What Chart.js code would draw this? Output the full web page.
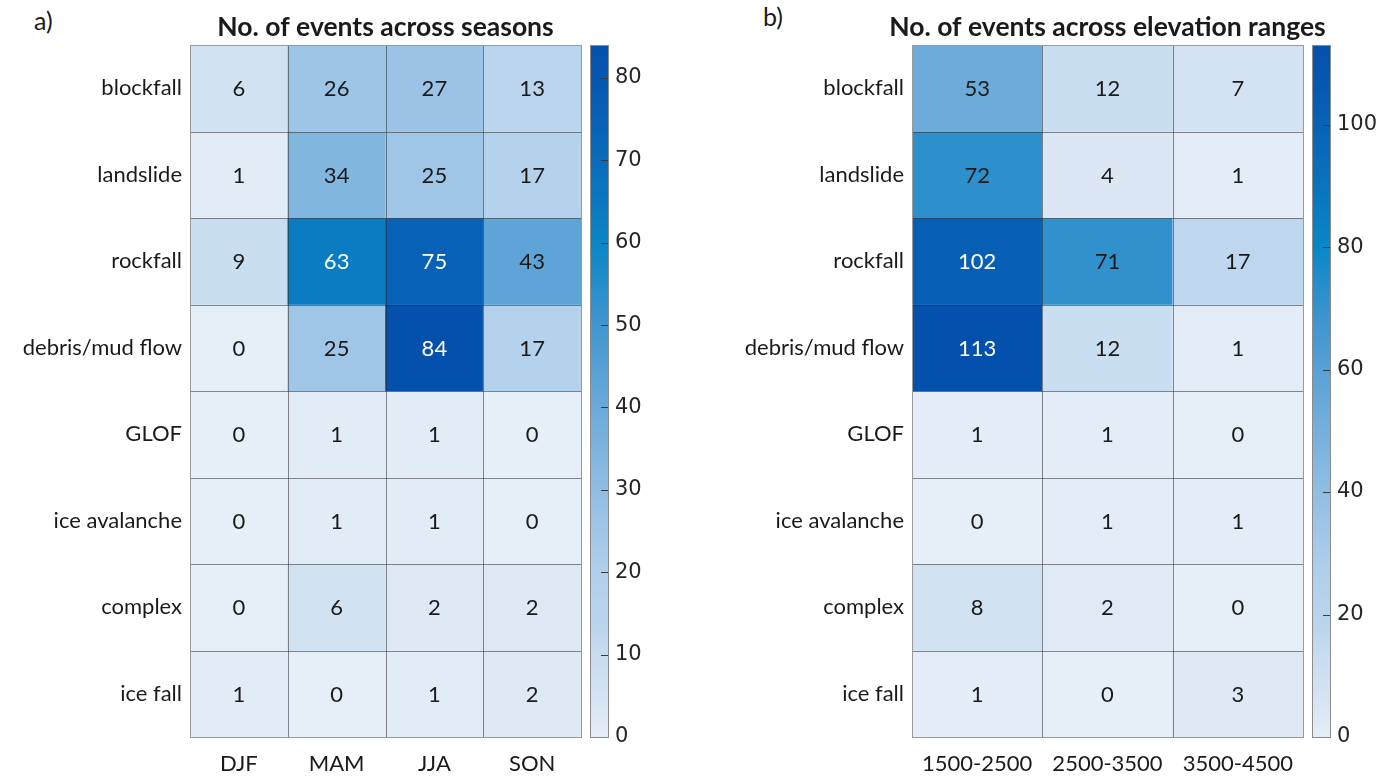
<!DOCTYPE html>
<html>
<head>
<meta charset="utf-8">
<script src="https://cdn.jsdelivr.net/npm/chart.js@4.4.1/dist/chart.umd.min.js"></script>
<style>
  html, body { margin: 0; padding: 0; background: #ffffff; }
  #wrap { position: relative; width: 1388px; height: 776px; overflow: hidden; }
  .box { position: absolute; top: 0; height: 776px; }
  .tag { position: absolute; font: 25px Lato, sans-serif; color: #1a1a1a; }
</style>
</head>
<body>
<div id="wrap">
  <div class="tag" style="left:34px;top:5px">a)</div>
  <div class="tag" style="left:763px;top:1px">b)</div>
  <div class="box" style="left:0px;width:586px"><canvas id="heatSeason"></canvas></div>
  <div class="box" style="left:586px;width:110px"><canvas id="barSeason"></canvas></div>
  <div class="box" style="left:700px;width:688px"><canvas id="heatElev"></canvas></div>
  <div class="box" style="left:1307px;width:81px"><canvas id="barElev"></canvas></div>
</div>
<script>
// Event types (rows, top to bottom)
const eventTypes = ['blockfall', 'landslide', 'rockfall', 'debris/mud flow', 'GLOF', 'ice avalanche', 'complex', 'ice fall'];

// Counts per season (one array per column, ordered as eventTypes)
const seasons = ['DJF', 'MAM', 'JJA', 'SON'];
const countsDJF = [6, 1, 9, 0, 0, 0, 0, 1];
const countsMAM = [26, 34, 63, 25, 1, 1, 6, 0];
const countsJJA = [27, 25, 75, 84, 1, 1, 2, 1];
const countsSON = [13, 17, 43, 17, 0, 0, 2, 2];

// Counts per elevation range (m a.s.l.)
const elevRanges = ['1500-2500', '2500-3500', '3500-4500'];
const counts1500 = [53, 72, 102, 113, 1, 0, 8, 1];
const counts2500 = [12, 4, 71, 12, 1, 1, 2, 0];
const counts3500 = [7, 1, 17, 1, 0, 1, 0, 3];

// Colour-bar tick steps
const seasonTickStep = 10;
const elevTickStep = 20;

// Light-to-dark blue colour map: [position 0..1, rgb]
const blueMap = [
  [0.00, [230, 238, 248]],
  [0.035, [219, 231, 244]],
  [0.07, [209, 226, 243]],
  [0.12, [200, 220, 240]],
  [0.155, [188, 213, 238]],
  [0.24, [176, 207, 235]],
  [0.36, [143, 189, 226]],
  [0.48, [106, 169, 217]],
  [0.60, [63, 149, 208]],
  [0.71, [10, 134, 198]],
  [0.83, [10, 108, 187]],
  [0.95, [5, 87, 177]],
  [1.00, [4, 80, 173]]
];

function mapColor(t) {
  t = Math.max(0, Math.min(1, t));
  for (let i = 1; i < blueMap.length; i++) {
    const [t1, c1] = blueMap[i];
    const [t0, c0] = blueMap[i - 1];
    if (t <= t1) {
      const f = (t - t0) / (t1 - t0);
      const c = c0.map((v, k) => Math.round(v + (c1[k] - v) * f));
      return `rgb(${c[0]},${c[1]},${c[2]})`;
    }
  }
  const c = blueMap[blueMap.length - 1][1];
  return `rgb(${c[0]},${c[1]},${c[2]})`;
}

const LABEL_FONT = 'Lato, "Open Sans", sans-serif';
const TEXT_DARK = '#1a1a1a';

// Panel title centred over the cell grid, drawn at its natural width
const panelTitlePlugin = {
  id: 'panelTitle',
  afterDraw(chart, args, opts) {
    const ctx = chart.ctx;
    const a = chart.chartArea;
    ctx.save();
    ctx.font = 'bold 26.5px ' + LABEL_FONT;
    ctx.fillStyle = TEXT_DARK;
    ctx.textAlign = 'center';
    ctx.textBaseline = 'middle';
    ctx.fillText(opts.text, (a.left + a.right) / 2, a.top - 18);
    ctx.restore();
  }
};

// Grid lines and value labels on top of the cells
const cellPlugin = {
  id: 'cellDecor',
  afterDatasetsDraw(chart, args, opts) {
    const ctx = chart.ctx;
    const xs = chart.scales.x, ys = chart.scales.y;
    const n = chart.data.labels.length;
    const half = (xs.getPixelForValue(1) - xs.getPixelForValue(0)) / 2;
    const left = Math.round(xs.getPixelForValue(0) - half) + 0.5;
    const right = Math.round(xs.getPixelForValue(n - 1) + half) + 0.5;
    const top = Math.round(ys.getPixelForValue(0)) + 0.5;
    const bottom = Math.round(ys.getPixelForValue(eventTypes.length)) + 0.5;
    ctx.save();
    ctx.lineWidth = 1;
    ctx.strokeStyle = 'rgba(45,45,45,0.55)';
    ctx.beginPath();
    for (let i = 1; i < n; i++) {
      const px = Math.round(xs.getPixelForValue(i) - half) + 0.5;
      ctx.moveTo(px, top); ctx.lineTo(px, bottom);
    }
    for (let k = 1; k < eventTypes.length; k++) {
      const py = Math.round(ys.getPixelForValue(k)) + 0.5;
      ctx.moveTo(left, py); ctx.lineTo(right, py);
    }
    ctx.stroke();
    ctx.strokeStyle = '#9a9a9a';
    ctx.strokeRect(left, top, right - left, bottom - top);

    ctx.font = '22px ' + LABEL_FONT;
    ctx.textAlign = 'center';
    ctx.textBaseline = 'middle';
    chart.data.datasets.forEach((ds, di) => {
      chart.getDatasetMeta(di).data.forEach((el, i) => {
        const v = ds.data[i].v;
        const p = el.getProps(['x', 'y', 'base'], true);
        ctx.fillStyle = v / opts.max > 0.7 ? '#ffffff' : TEXT_DARK;
        ctx.fillText(String(v), p.x, (p.y + p.base) / 2 + 1);
      });
    });
    ctx.restore();
  }
};

function makeHeatmap(id, title, columns, columnCounts, axisWidth, rightPad) {
  const max = Math.max(...columnCounts.flat());
  const datasets = eventTypes.map((name, r) => ({
    label: name,
    data: columns.map((col, c) => ({ x: col, y: [r, r + 1], v: columnCounts[c][r] })),
    backgroundColor: (ctx) => ctx.raw ? mapColor(ctx.raw.v / max) : '#fff',
    borderWidth: 0,
    grouped: false,
    barPercentage: 1,
    categoryPercentage: 1
  }));
  return new Chart(document.getElementById(id), {
    type: 'bar',
    data: { labels: columns, datasets },
    plugins: [cellPlugin, panelTitlePlugin],
    options: {
      responsive: true,
      maintainAspectRatio: false,
      animation: false,
      devicePixelRatio: 1,
      layout: { padding: { left: 0, right: rightPad, top: 45, bottom: 0 } },
      plugins: {
        legend: { display: false },
        tooltip: { enabled: false },
        title: { display: false },
        panelTitle: { text: title },
        cellDecor: { max }
      },
      scales: {
        x: {
          type: 'category',
          offset: true,
          grid: { display: false, drawTicks: false },
          border: { display: false },
          ticks: { color: TEXT_DARK, font: { family: LABEL_FONT, size: 22 }, padding: 14 },
          afterFit: (s) => { s.height = 39; }
        },
        y: {
          type: 'linear',
          min: 0,
          max: eventTypes.length,
          reverse: true,
          grid: { display: false, drawTicks: false },
          border: { display: false },
          afterBuildTicks: (s) => { s.ticks = eventTypes.map((_, i) => ({ value: i + 0.5 })); },
          ticks: {
            color: TEXT_DARK,
            font: { family: LABEL_FONT, size: 22 },
            padding: 8,
            callback: (v) => eventTypes[Math.floor(v)]
          },
          afterFit: (s) => { s.width = axisWidth; }
        }
      }
    }
  });
}

// Colour bar: one floating bar spanning the data range, filled with the colour map
const colorbarPlugin = {
  id: 'colorbarDecor',
  afterDatasetsDraw(chart) {
    const ctx = chart.ctx;
    const a = chart.chartArea;
    const ys = chart.scales.y;
    ctx.save();
    ctx.lineWidth = 1;
    ctx.strokeStyle = '#3a3a3a';
    ctx.beginPath();
    ys.ticks.forEach((t) => {
      if (t.value === 0) return;
      const py = Math.round(ys.getPixelForValue(t.value)) + 0.5;
      ctx.moveTo(Math.round(a.right) - 7, py); ctx.lineTo(Math.round(a.right), py);
    });
    ctx.stroke();
    ctx.strokeStyle = '#8c8c8c';
    ctx.strokeRect(Math.round(a.left) + 0.5, Math.round(a.top) + 0.5,
      Math.round(a.right) - Math.round(a.left), Math.round(a.bottom) - Math.round(a.top));
    ctx.restore();
  }
};

function makeColorbar(id, columnCounts, step, leftPad, axisWidth) {
  const max = Math.max(...columnCounts.flat());
  return new Chart(document.getElementById(id), {
    type: 'bar',
    data: {
      labels: [''],
      datasets: [{
        data: [[0, max]],
        borderWidth: 0,
        barPercentage: 1,
        categoryPercentage: 1,
        backgroundColor: (ctx) => {
          const area = ctx.chart.chartArea;
          if (!area) return '#ccc';
          const g = ctx.chart.ctx.createLinearGradient(0, area.bottom, 0, area.top);
          blueMap.forEach(([t, c]) => g.addColorStop(t, `rgb(${c[0]},${c[1]},${c[2]})`));
          return g;
        }
      }]
    },
    plugins: [colorbarPlugin],
    options: {
      responsive: true,
      maintainAspectRatio: false,
      animation: false,
      devicePixelRatio: 1,
      layout: { padding: { left: leftPad, right: 0, top: 45, bottom: 39 } },
      plugins: { legend: { display: false }, tooltip: { enabled: false } },
      scales: {
        x: { display: false },
        y: {
          position: 'right',
          min: 0,
          max: max,
          grid: { display: false, drawTicks: false },
          border: { display: false },
          ticks: {
            stepSize: step,
            includeBounds: false,
            color: '#262626',
            font: { family: '"DejaVu Sans", sans-serif', size: 21 },
            padding: 7
          },
          afterFit: (s) => { s.width = axisWidth; }
        }
      }
    }
  });
}

const seasonCounts = [countsDJF, countsMAM, countsJJA, countsSON];
const elevCounts = [counts1500, counts2500, counts3500];

makeHeatmap('heatSeason', 'No. of events across seasons', seasons, seasonCounts, 190, 5);
makeColorbar('barSeason', seasonCounts, seasonTickStep, 4, 88);
makeHeatmap('heatElev', 'No. of events across elevation ranges', elevRanges, elevCounts, 212, 85);
makeColorbar('barElev', elevCounts, elevTickStep, 5, 58);
</script>
</body>
</html>
